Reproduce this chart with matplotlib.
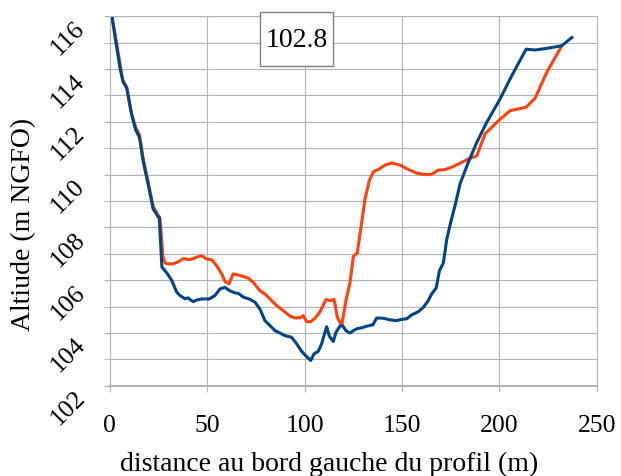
import matplotlib
matplotlib.use('Agg')
import matplotlib.pyplot as plt
from matplotlib.patches import Rectangle
from matplotlib.ticker import MultipleLocator

# ── profile data ──
blue_x = [0.8, 5.1, 6.8, 8.6, 11.1, 13.2, 15.2, 17.1, 19.7, 22.2, 24.8, 25.3, 26.7,
          29.5, 31.7, 34.3, 36.0, 38.5, 40.2, 41.1, 42.8, 44.5, 47.1, 51.0, 53.9,
          56.5, 59.0, 61.6, 64.2, 66.0, 68.5, 71.5, 74.5, 77.1, 79.6, 82.2, 84.8,
          87.3, 89.9, 93.3, 95.9, 98.5, 101.0, 103.1, 104.8, 107.0, 108.7, 109.9,
          111.3, 112.7, 114.7, 116.1, 118.1, 119.5, 121.2, 123.3, 125.0, 126.7,
          129.3, 131.9, 135.0, 137.0, 140.4, 143.8, 147.0, 150.0, 152.4, 155.0,
          158.4, 161.0, 163.5, 165.2, 167.5, 169.2, 171.2, 173.0, 175.0, 177.2,
          179.8, 184.0, 188.4, 193.5, 200.3, 206.3, 213.7, 218.3, 224.3, 232.0, 237.2]
blue_y = [116.1, 114.06, 113.5, 113.3, 112.3, 111.7, 111.4, 110.5, 109.6, 108.7, 108.4, 108.4, 106.5,
          106.25, 106.0, 105.55, 105.42, 105.3, 105.33, 105.27, 105.19, 105.25, 105.29, 105.29, 105.42,
          105.67, 105.73, 105.6, 105.52, 105.5, 105.36, 105.29, 105.17, 104.9, 104.47, 104.28, 104.09,
          104.0, 103.9, 103.84, 103.59, 103.3, 103.11, 102.96, 103.21, 103.31, 103.59, 103.9,
          104.24, 103.88, 103.68, 104.03, 104.26, 104.28, 104.09, 104.0, 104.09, 104.16,
          104.2, 104.26, 104.31, 104.57, 104.56, 104.5, 104.47, 104.52, 104.54, 104.69,
          104.81, 104.98, 105.23, 105.48, 105.7, 106.36, 106.65, 107.56, 108.2, 108.82,
          109.65, 110.46, 111.22, 111.98, 112.86, 113.74, 114.75, 114.72, 114.78, 114.88, 115.19]

orange_x = [0.8, 5.0, 6.5, 8.6, 11.1, 13.2, 15.2, 17.1, 19.7, 22.2, 24.8, 25.8, 27.2,
            28.3, 30.0, 32.5, 35.1, 37.7, 41.1, 44.5, 47.1, 49.7, 52.2, 54.8, 57.4,
            59.1, 61.1, 63.3, 65.9, 68.5, 71.0, 73.6, 77.1, 79.6, 82.2, 85.6, 89.0,
            92.5, 95.0, 97.6, 99.3, 101.0, 103.1, 105.3, 107.9, 111.0, 113.0, 115.1,
            116.8, 119.0, 121.2, 123.3, 125.0, 127.0, 129.3, 131.0, 133.2, 135.3,
            137.8, 141.3, 144.7, 149.0, 153.3, 157.5, 161.0, 164.4, 166.4, 168.6,
            172.1, 175.5, 178.9, 184.0, 188.4, 192.6, 199.5, 205.5, 213.7, 218.3,
            224.3, 232.0]
orange_y = [116.1, 114.3, 113.6, 113.3, 112.3, 111.8, 111.5, 110.6, 109.7, 108.8, 108.45, 108.3, 106.9,
            106.65, 106.62, 106.62, 106.7, 106.82, 106.78, 106.87, 106.93, 106.8, 106.78, 106.55, 106.24,
            105.95, 105.86, 106.24, 106.2, 106.14, 106.08, 105.92, 105.6, 105.48, 105.29, 105.04, 104.85,
            104.64, 104.57, 104.58, 104.66, 104.43, 104.43, 104.56, 104.81, 105.27, 105.23, 105.27,
            104.6, 104.28, 105.23, 105.92, 106.9, 107.03, 108.2, 109.08, 109.77, 110.11,
            110.19, 110.36, 110.44, 110.36, 110.19, 110.06, 110.01, 110.0, 110.06, 110.17,
            110.19, 110.28, 110.4, 110.59, 110.71, 111.54, 112.04, 112.42, 112.55, 112.89,
            113.87, 114.88]

LEVEL_LABEL = '102.8'

ORANGE = '#ff420e'
BLUE = '#004586'
GRID = '#b3b3b3'

plt.rcParams['font.family'] = ['Liberation Serif', 'DejaVu Serif']

fig = plt.figure(figsize=(6.21, 4.77), dpi=100)
ax = fig.add_axes([0.177, 0.189, 0.784, 0.775])

ax.plot(orange_x, orange_y, color=ORANGE, lw=2.2, solid_joinstyle='round')
ax.plot(blue_x, blue_y, color=BLUE, lw=2.2, solid_joinstyle='round')

ax.set_xlim(0, 250)
ax.set_ylim(102, 116)
ax.xaxis.set_major_locator(MultipleLocator(50))
ax.yaxis.set_major_locator(MultipleLocator(2))
ax.yaxis.set_minor_locator(MultipleLocator(1))

ax.grid(True, which='both', axis='y', color=GRID, lw=0.8)
ax.grid(True, which='major', axis='x', color=GRID, lw=0.8)
ax.set_axisbelow(True)
for s in ax.spines.values():
    s.set_color(GRID)
    s.set_linewidth(0.8)
ax.spines['bottom'].set_linewidth(1.5)

ax.tick_params(axis='x', length=4, color=GRID, labelsize=18.5, pad=16)
ax.tick_params(axis='y', which='both', length=4, color=GRID)
ax.tick_params(axis='y', which='major', labelsize=18.5, pad=11)
for lab in ax.get_yticklabels():
    lab.set_rotation(45)
    lab.set_ha('right')
    lab.set_va('top')

ax.set_xlabel('distance au bord gauche du profil (m)', fontsize=20)
ax.xaxis.set_label_coords(0.451, -0.211)
ax.xaxis.label.set_va('center')
ax.set_ylabel('Altiude (m NGFO)', fontsize=20)
ax.yaxis.set_label_coords(-0.177, 0.438)
ax.yaxis.label.set_va('center')

# boxed water level label
ax.add_patch(Rectangle((0.308, 0.865), 0.150, 0.146, transform=ax.transAxes,
                       fc='white', ec='#808080', lw=1, clip_on=False, zorder=5))
ax.text(0.383, 0.938, LEVEL_LABEL, transform=ax.transAxes, fontsize=20,
        ha='center', va='center', zorder=6)

fig.savefig('out.png', dpi=100, facecolor='white')
